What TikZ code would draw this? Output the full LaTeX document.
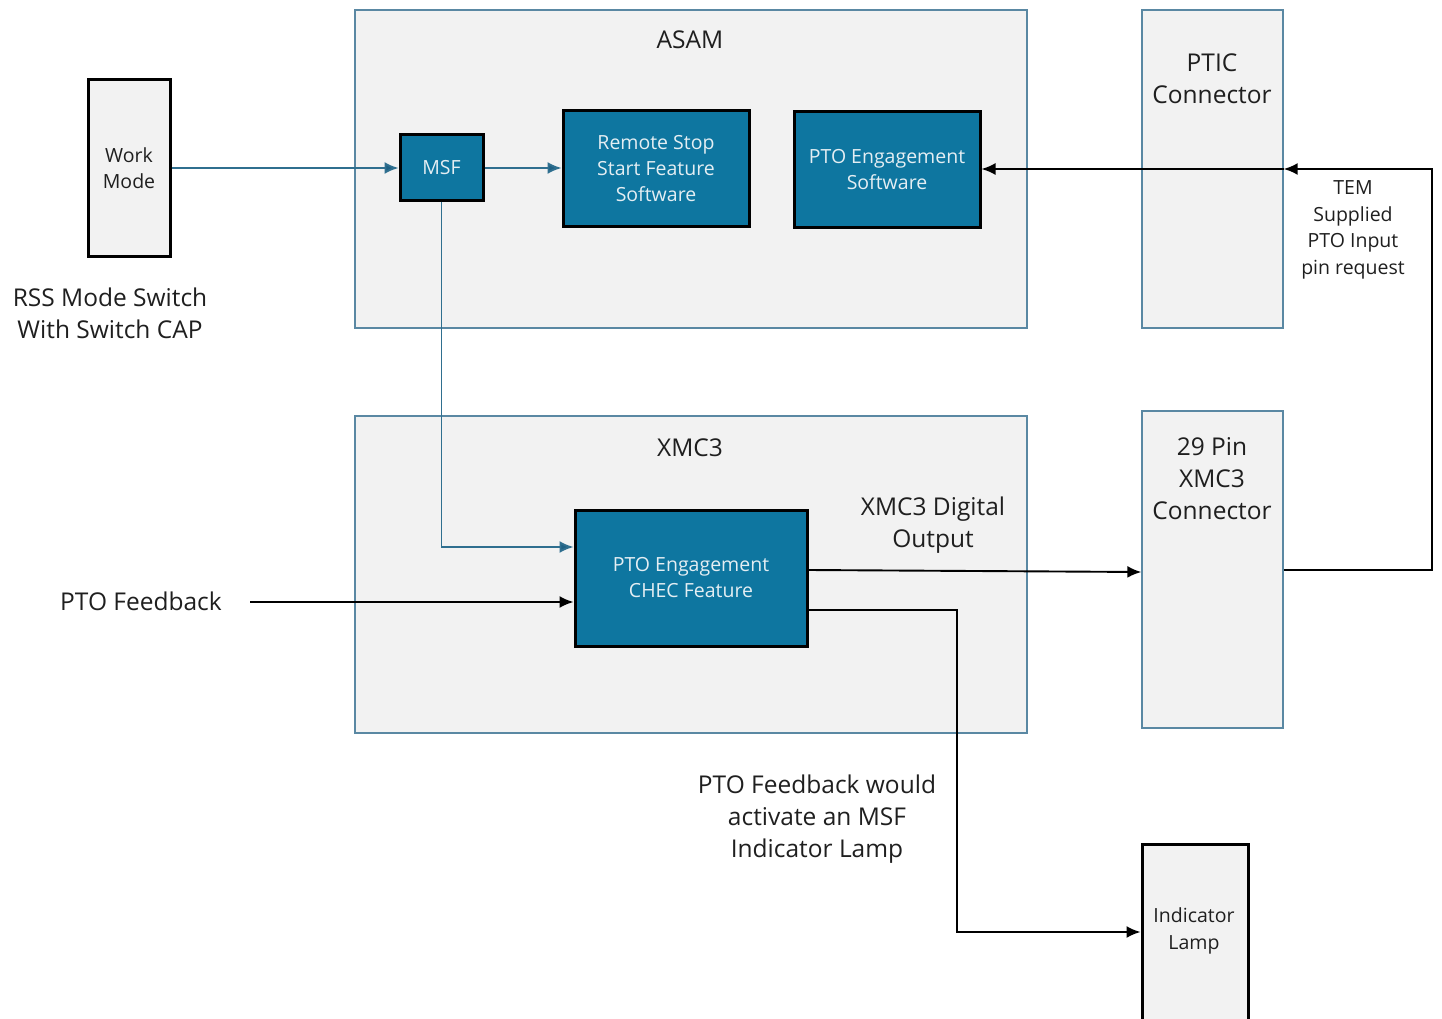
\documentclass[tikz,border=0pt]{standalone}
\usepackage{fontspec}
\setmainfont{Open Sans}
\usetikzlibrary{arrows.meta}
\definecolor{panel}{HTML}{F2F2F2}
\definecolor{frameblue}{HTML}{5A88A3}
\definecolor{fillblue}{HTML}{0E76A0}
\definecolor{lineblue}{HTML}{2F6F8F}
\definecolor{tipblue}{HTML}{1F6184}
\definecolor{soft}{HTML}{E4EEF3}
\tikzset{
  container/.style={draw=frameblue, line width=1.4pt, fill=panel},
  bluebox/.style={draw=black, line width=3pt, fill=fillblue, text=soft,
    font=\fontsize{19.5}{26}\selectfont, align=center, inner sep=0pt},
  greybox/.style={draw=black, line width=3pt, fill=panel, text=black!88,
    font=\fontsize{19.5}{26}\selectfont, align=center, inner sep=0pt},
  conn/.style={draw=frameblue, line width=1.4pt, fill=panel, inner sep=0pt},
  biglabel/.style={font=\fontsize{24.5}{32}\selectfont, align=center, text=black!88, inner sep=0pt},
  smalllabel/.style={font=\fontsize{19.5}{26.5}\selectfont, align=center, text=black!88, inner sep=0pt},
  blueflow/.style={draw=lineblue, line width=1.9pt, -{Latex[length=14pt,width=12pt,fill=tipblue]}},
  blackflow/.style={draw=black, line width=1.9pt, -{Latex[length=14pt,width=12pt]}}
}
\begin{document}
\begin{tikzpicture}[x=1pt, y=-1pt]
  \useasboundingbox (0,0) rectangle (1442,1019);
  \begin{scope}
    \clip (0,0) rectangle (1442,1019);

    % subsystem panels
    \node[container, minimum width=672pt, minimum height=318pt, inner sep=0pt] (asam) at (691,169) {};
    \node[biglabel] (asamlbl) at (690,40) {ASAM};
    \node[container, minimum width=672pt, minimum height=317pt, inner sep=0pt] (xmc) at (691,574.5) {};
    \node[biglabel] (xmclbl) at (690,448) {XMC3};

    % connectors
    \node[conn, minimum width=141pt, minimum height=318pt] (ptic) at (1212.5,169) {};
    \node[biglabel] (pticlbl) at (1212,79) {PTIC\\Connector};
    \node[conn, minimum width=141pt, minimum height=317pt] (pin29) at (1212.5,569.5) {};
    \node[biglabel] (pin29lbl) at (1212,479) {29 Pin\\XMC3\\Connector};

    % switch and lamp
    \node[greybox, minimum width=82pt, minimum height=176pt] (work) at (129,168) {Work\\Mode};
    \node[greybox, minimum width=106pt, minimum height=200pt] (lamp) at (1195,944) {};
    \node[smalllabel] (lamplbl) at (1194,931) {Indicator\\Lamp};

    % software blocks
    \node[bluebox, minimum width=83pt, minimum height=66pt] (msf) at (441.5,168) {MSF};
    \node[bluebox, minimum width=186pt, minimum height=115pt] (rss) at (656,168.5) {Remote Stop\\Start Feature\\Software};
    \node[bluebox, minimum width=186pt, minimum height=115pt] (ptosw) at (887,169.5) {PTO Engagement\\Software};
    \node[bluebox, minimum width=232pt, minimum height=136pt] (chec) at (691,578) {PTO Engagement\\CHEC Feature};

    % free labels
    \node[biglabel] (rsslbl) at (110,313) {RSS Mode Switch\\With Switch CAP};
    \node[smalllabel] (temlbl) at (1353,230) {TEM\\Supplied\\PTO Input\\pin request};
    \node[biglabel] (digout) at (933,525) {XMC3 Digital\\Output};
    \node[biglabel] (fbk) at (141,601) {PTO Feedback};
    \node[biglabel] (lampnote) at (817,819) {PTO Feedback would\\activate an MSF\\Indicator Lamp};

    \coordinate (fbkend) at (250,602);
    \coordinate (rtop) at (1432,169);
    \coordinate (rbot) at (1432,570);

    % signal flow
    \draw[blueflow] (work.east |- msf.west) -- (msf.west);
    \draw[blueflow] (msf.east) -- (rss.west |- msf.east);
    \draw[blueflow] (msf.south) -- (msf.south |- 0,547) -- (chec.west |- 0,547);
    \draw[blackflow] (fbkend) -- (chec.west |- fbkend);
    \draw[blackflow] (chec.east |- 0,570) -- (pin29.west |- 0,572);
    \draw[blackflow] (chec.east |- 0,610) -- (957,610) -- (957,932) -- (lamp.west |- 0,932);
    \draw[blackflow] (pin29.east |- rbot) -- (rbot) -- (rtop) -- (ptic.east |- rtop);
    \draw[blackflow] (ptic.east |- rtop) -- (ptosw.east |- rtop);
  \end{scope}
\end{tikzpicture}
\end{document}
